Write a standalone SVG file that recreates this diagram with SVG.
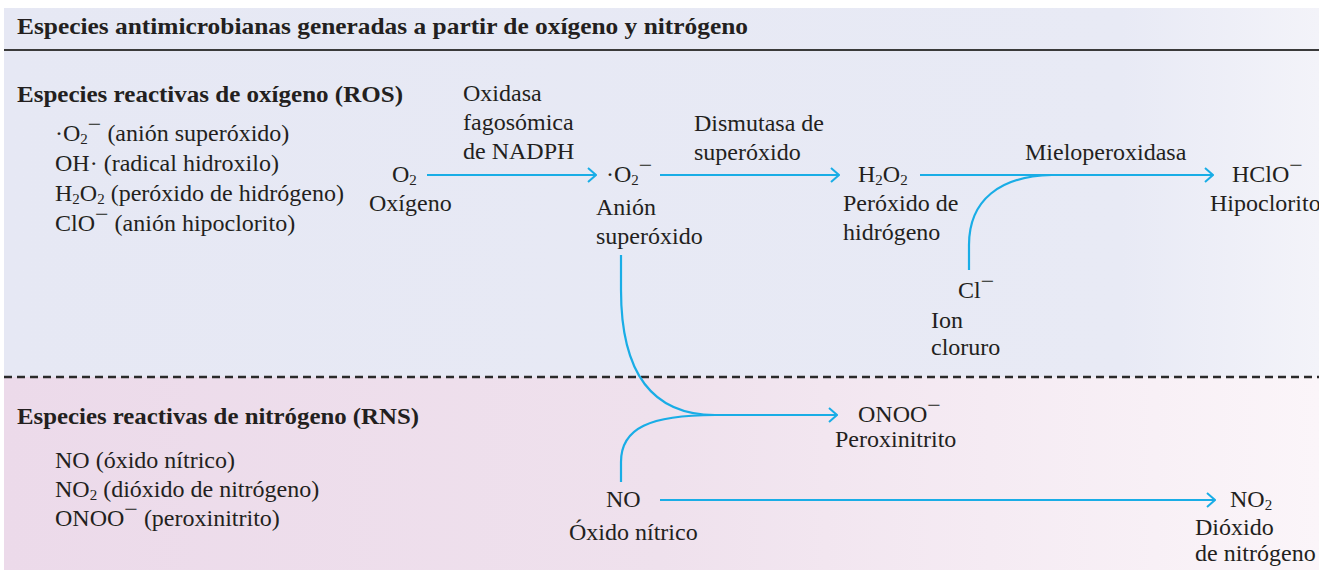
<svg xmlns="http://www.w3.org/2000/svg" width="1319" height="570" viewBox="0 0 1319 570">
<style>
text{font-family:"Liberation Serif","Times New Roman",serif;font-size:24px;fill:#231f20}
.b{font-weight:bold}
.sub{font-size:15px;baseline-shift:-3px}
.sup{baseline-shift:9px}
.c{fill:none;stroke:#19ade6;stroke-width:2.2}
.a{marker-end:url(#arr)}
</style>
<defs>
<linearGradient id="gTop" x1="0" y1="0" x2="1" y2="0">
<stop offset="0" stop-color="#e6e8f4"/><stop offset="0.85" stop-color="#e8eaf5"/><stop offset="1" stop-color="#f3f3f9"/>
</linearGradient>
<linearGradient id="gBot" x1="0" y1="0" x2="1" y2="0">
<stop offset="0" stop-color="#ecdaea"/><stop offset="0.5" stop-color="#efe1ed"/><stop offset="1" stop-color="#fbf5f9"/>
</linearGradient>
<marker id="arr" viewBox="0 0 10 16" refX="9" refY="8" markerWidth="10" markerHeight="16" markerUnits="userSpaceOnUse" orient="auto">
<path d="M1,1 L9,8 L1,15" fill="none" stroke="#19ade6" stroke-width="2"/>
</marker>
</defs>
<g id="background">
<rect x="4" y="8" width="1315" height="369" fill="url(#gTop)"/>
<rect x="4" y="377" width="1315" height="193" fill="url(#gBot)"/>
<line x1="4" y1="50" x2="1319" y2="50" stroke="#3a3a3a" stroke-width="2"/>
<line x1="4" y1="377" x2="1319" y2="377" stroke="#2a2a2a" stroke-width="2.5" stroke-dasharray="8,5"/>
</g>
<g id="title"><text class="b" x="17" y="34" textLength="731" lengthAdjust="spacingAndGlyphs">Especies antimicrobianas generadas a partir de oxígeno y nitrógeno</text></g>
<g id="ros-list">
<text class="b" x="17" y="102" textLength="386" lengthAdjust="spacingAndGlyphs">Especies reactivas de oxígeno (ROS)</text>
<text x="55" y="141">·O<tspan class="sub">2</tspan><tspan class="sup">−</tspan> (anión superóxido)</text>
<text x="55" y="171">OH· (radical hidroxilo)</text>
<text x="55" y="201">H<tspan class="sub">2</tspan>O<tspan class="sub">2</tspan> (peróxido de hidrógeno)</text>
<text x="55" y="231">ClO<tspan class="sup">−</tspan> (anión hipoclorito)</text>
</g>
<g id="rns-list">
<text class="b" x="17" y="424" textLength="402" lengthAdjust="spacingAndGlyphs">Especies reactivas de nitrógeno (RNS)</text>
<text x="55" y="468">NO (óxido nítrico)</text>
<text x="55" y="497">NO<tspan class="sub">2</tspan> (dióxido de nitrógeno)</text>
<text x="55" y="526">ONOO<tspan class="sup">−</tspan> (peroxinitrito)</text>
</g>
<g id="node-o2"><text x="392" y="182">O<tspan class="sub">2</tspan></text><text x="369" y="211">Oxígeno</text></g>
<g id="label-nadph"><text x="463" y="101">Oxidasa</text><text x="463" y="130">fagosómica</text><text x="463" y="159">de NADPH</text></g>
<g id="node-superoxide"><text x="606" y="182">·O<tspan class="sub">2</tspan><tspan class="sup">−</tspan></text><text x="596" y="215">Anión</text><text x="596" y="244">superóxido</text></g>
<g id="label-dismutasa"><text x="694" y="131">Dismutasa de</text><text x="694" y="160">superóxido</text></g>
<g id="node-h2o2"><text x="858" y="182">H<tspan class="sub">2</tspan>O<tspan class="sub">2</tspan></text><text x="843" y="211">Peróxido de</text><text x="843" y="240">hidrógeno</text></g>
<g id="label-mpo"><text x="1025" y="160">Mieloperoxidasa</text></g>
<g id="node-hclo"><text x="1232" y="182">HClO<tspan class="sup">−</tspan></text><text x="1210" y="211">Hipoclorito</text></g>
<g id="node-cl"><text x="958" y="298">Cl<tspan class="sup">−</tspan></text><text x="931" y="328">Ion</text><text x="931" y="355">cloruro</text></g>
<g id="node-onoo"><text x="858" y="422">ONOO<tspan class="sup">−</tspan></text><text x="835" y="447">Peroxinitrito</text></g>
<g id="node-no"><text x="606" y="507">NO</text><text x="569" y="540">Óxido nítrico</text></g>
<g id="node-no2"><text x="1230" y="507">NO<tspan class="sub">2</tspan></text><text x="1195" y="535">Dióxido</text><text x="1195" y="561">de nitrógeno</text></g>
<g id="connectors">
<path class="c a" d="M427,175 H596"/>
<path class="c a" d="M660,175 H839"/>
<path class="c a" d="M920,175 H1213"/>
<path class="c" d="M969,270 V245 C969,200 1000,176 1052,175"/>
<path class="c" d="M621,255 V290 C621,370 650,415 715,415"/>
<path class="c" d="M621,482 V462 C621,428 650,415 715,415"/>
<path class="c a" d="M715,415 H837"/>
<path class="c a" d="M660,500 H1215"/>
</g>
</svg>
